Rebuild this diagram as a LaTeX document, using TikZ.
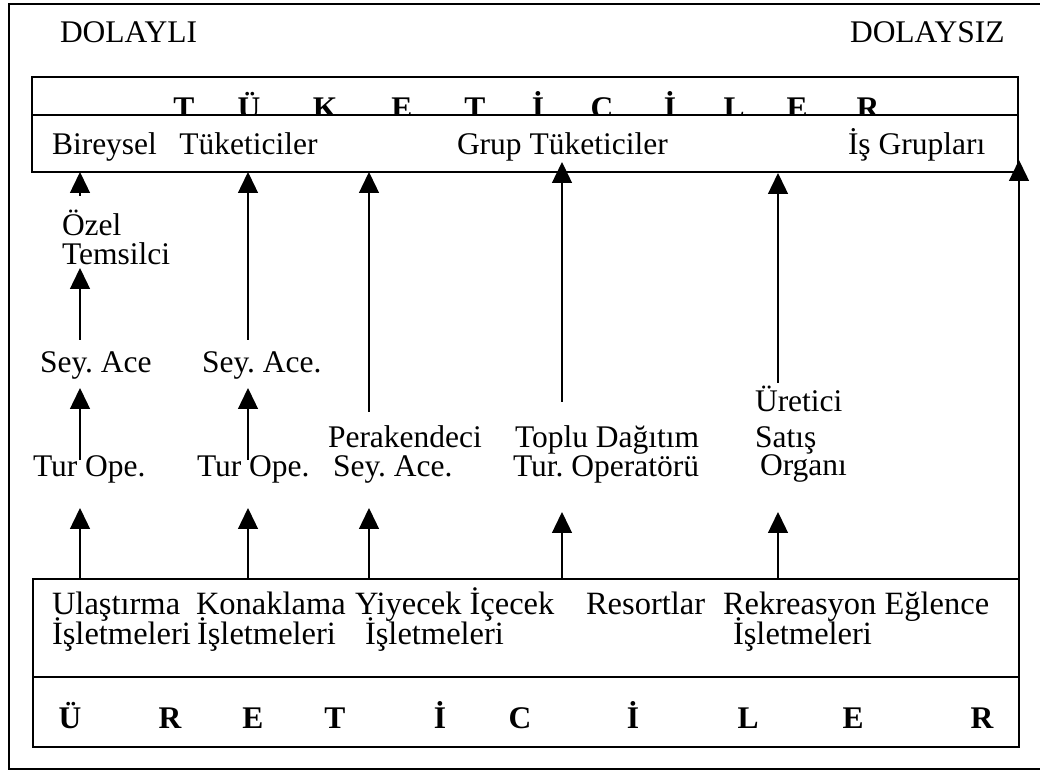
\documentclass[tikz,border=0pt]{standalone}
\usepackage{fontspec}
\setmainfont{Liberation Serif}
\usetikzlibrary{arrows.meta}
\begin{document}
\frenchspacing
\begin{tikzpicture}[x=0.4pt,y=-0.4pt,
  lbl/.style={inner sep=0pt, outer sep=0pt, anchor=base west, font=\fontsize{12.6}{15}\selectfont},
  blbl/.style={lbl, font=\fontsize{13}{15}\selectfont},
  letter/.style={inner sep=0pt, outer sep=0pt, anchor=base, font=\fontsize{12.6}{15}\selectfont\bfseries},
  panel/.style={draw, line width=0.7pt, inner sep=0pt, outer sep=0pt, anchor=north west},
  flow/.style={line width=0.55pt, -{Triangle[width=8pt,length=8.4pt]}},
]
\useasboundingbox (0,0) rectangle (1040,771);

% outer frame (open on the right)
\draw[line width=0.8pt] (1040,4) -- (9,4) -- (9,769) -- (1040,769);

% headings
\node[lbl] (dolayli) at (60,43) {DOLAYLI};
\node[lbl] (dolaysiz) at (850,43) {DOLAYSIZ};

% consumers panel
\node[panel, minimum width=394.4pt, minimum height=38pt] (tuk) at (32,77) {};
\coordinate (ul) at (0,115);
\draw[line width=0.7pt] (tuk.west |- ul) -- (tuk.east |- ul);
\begin{scope}
  \clip (tuk.north west) rectangle (tuk.east |- ul);
  \foreach \x/\c in {184/T,249/Ü,325/K,402/E,475/T,538/İ,602/C,670/İ,734/L,797/E,868/R}
    \node[letter] (tk\x) at (\x,119) {\c};
\end{scope}
\node[lbl] (bireysel) at (52,155) {Bireysel\hspace{9pt}Tüketiciler};
\node[lbl] (grup) at (457,155) {Grup Tüketiciler};
\node[lbl] (isgrup) at (848,155) {İş Grupları};

% intermediaries
\node[lbl] (ozel) at (62,236) {Özel};
\node[lbl] (temsilci) at (62,265) {Temsilci};
\node[lbl] (sa1) at (40,373) {Sey. Ace};
\node[lbl] (sa2) at (202,373) {Sey. Ace.};
\node[lbl] (tur1) at (33,477) {Tur Ope.};
\node[lbl] (tur2) at (197,477) {Tur Ope.};
\node[lbl] (perak) at (328,448) {Perakendeci};
\node[lbl] (persa) at (333,477) {Sey. Ace.};
\node[lbl] (toplu) at (515,448) {Toplu Dağıtım};
\node[lbl] (turop) at (513,477) {Tur. Operatörü};
\node[lbl] (uretici) at (755,412) {Üretici};
\node[lbl] (satis) at (755,448) {Satış};
\node[lbl] (organ) at (760,476) {Organı};

% producers panel
\node[panel, minimum width=394.4pt, minimum height=67.2pt] (ure) at (33,579) {};
\coordinate (dl) at (0,677);
\draw[line width=0.7pt] (ure.west |- dl) -- (ure.east |- dl);
\node[blbl] (ula) at (52,615) {Ulaştırma};
\node[blbl] (isl1) at (52,645) {İşletmeleri};
\node[blbl] (kon) at (196,615) {Konaklama};
\node[blbl] (isl2) at (197,645) {İşletmeleri};
\node[blbl] (yiy) at (355,615) {Yiyecek İçecek};
\node[blbl] (isl3) at (365,645) {İşletmeleri};
\node[blbl] (res) at (586,615) {Resortlar};
\node[blbl] (rek) at (723,615) {Rekreasyon Eğlence};
\node[blbl] (isl4) at (733,645) {İşletmeleri};
\foreach \x/\c in {70/Ü,170/R,253/E,335/T,440/İ,520/C,633/İ,748/L,853/E,982/R}
  \node[letter] (ur\x) at (\x,728) {\c};

% connector columns and end points
\coordinate (c1) at (80,0);
\coordinate (c2) at (248,0);
\coordinate (c3) at (369,0);
\coordinate (c4) at (562,0);
\coordinate (c5) at (778,0);
\coordinate (c6) at (1019,0);
\coordinate (ozS) at (80,196);
\coordinate (temS) at (80,340);  \coordinate (temE) at (80,268);
\coordinate (sa1S) at (80,460);  \coordinate (sa1E) at (80,388);
\coordinate (tu1E) at (80,508);
\coordinate (sa2S) at (248,340);
\coordinate (sa2bS) at (248,460); \coordinate (sa2bE) at (248,388);
\coordinate (tu2E) at (248,508);
\coordinate (perS) at (369,412);
\coordinate (perE) at (369,508);
\coordinate (topS) at (562,402); \coordinate (topE) at (562,162);
\coordinate (topbE) at (562,512);
\coordinate (urS) at (778,383);  \coordinate (urE) at (778,173);
\coordinate (urbE) at (778,512);
\coordinate (dirE) at (1019,160);

% flows towards the consumers
\draw[flow] (ozS) -- (c1 |- tuk.south);
\draw[flow] (temS) -- (temE);
\draw[flow] (sa1S) -- (sa1E);
\draw[flow] (c1 |- ure.north) -- (tu1E);
\draw[flow] (sa2S) -- (c2 |- tuk.south);
\draw[flow] (sa2bS) -- (sa2bE);
\draw[flow] (c2 |- ure.north) -- (tu2E);
\draw[flow] (perS) -- (c3 |- tuk.south);
\draw[flow] (c3 |- ure.north) -- (perE);
\draw[flow] (topS) -- (topE);
\draw[flow] (c4 |- ure.north) -- (topbE);
\draw[flow] (urS) -- (urE);
\draw[flow] (c5 |- ure.north) -- (urbE);
\draw[flow] (c6 |- ure.north) -- (dirE);
\end{tikzpicture}
\end{document}
